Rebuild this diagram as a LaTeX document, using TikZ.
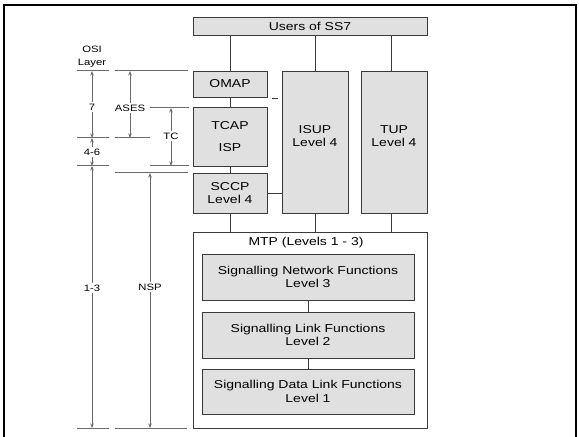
\documentclass[tikz,border=0pt]{standalone}
\usepackage{fontspec}
\setmainfont{Liberation Sans}[FakeStretch=1.22]
\usetikzlibrary{arrows.meta}
\definecolor{boxfill}{HTML}{E0E0E0}
\definecolor{boxline}{HTML}{3A3A3A}
\definecolor{dimline}{HTML}{6A6A6A}
\begin{document}
\begin{tikzpicture}[x=1bp,y=-1bp,
  box/.style={draw=boxline, fill=boxfill, line width=0.9bp, inner sep=0pt, align=center,
    font=\fontsize{11.5}{13.5}\selectfont},
  plain/.style={draw=none, fill=none, inner sep=0pt, align=center, font=\fontsize{11.5}{13.5}\selectfont},
  conn/.style={draw=boxline, line width=0.9bp},
  lab/.style={inner sep=2pt, align=center, font=\fontsize{9.3}{12.5}\selectfont},
  tick/.style={draw=dimline, line width=1bp},
  dim/.style={draw=dimline, line width=1bp, -{Stealth[length=4.5bp,width=3.5bp]}},
]
\useasboundingbox (0,0) rectangle (579,437);
% frame
\draw[line width=2.6bp, miter limit=10] (4,437) -- (4,5) -- (576,5) -- (576,437);

% boxes
\node[box, minimum width=234bp, minimum height=18bp] (users) at (310,26) {Users of SS7};
\node[box, minimum width=74bp, minimum height=26bp] (omap) at (230,84) {OMAP};
\node[box, minimum width=74bp, minimum height=59bp, font=\fontsize{11.5}{22}\selectfont] (tcap) at (230,136.5) {TCAP\\ISP};
\node[box, minimum width=74bp, minimum height=40bp] (sccp) at (230,193) {SCCP\\Level 4};
\node[box, minimum width=66bp, minimum height=142bp] (isup) at (315,142) {};
\node[plain] (isupt) at (315,136) {ISUP\\Level 4};
\node[box, minimum width=66bp, minimum height=142bp] (tup) at (394,142) {};
\node[plain] (tupt) at (394,136) {TUP\\Level 4};
\node[box, fill=white, minimum width=234bp, minimum height=196bp] (mtp) at (310,330) {};
\node[plain] (mtpt) at (306,243) {MTP (Levels 1 - 3)};
\node[box, minimum width=212bp, minimum height=46bp] (snf) at (308,277) {Signalling Network Functions\\Level 3};
\node[box, minimum width=212bp, minimum height=46bp] (slf) at (308,335) {Signalling Link Functions\\Level 2};
\node[box, minimum width=212bp, minimum height=45bp] (sdlf) at (308,391.5) {Signalling Data Link Functions\\Level 1};

% connectors
\draw[conn] (users.south -| omap) -- (omap.north);
\draw[conn] (omap) -- (tcap);
\draw[conn] (tcap) -- (sccp);
\draw[conn] (sccp.south) -- (sccp.south |- mtp.north);
\draw[conn] (users.south -| isup) -- (isup.north);
\draw[conn] (isup.south) -- (isup.south |- mtp.north);
\draw[conn] (users.south -| 391,0) -- (tup.north -| 391,0);
\draw[conn] (tup.south -| 391,0) -- (mtp.north -| 391,0);
\draw[conn] (sccp.east) -- (sccp.east -| isup.west);
\draw[conn] (snf) -- (slf);
\draw[conn] (slf) -- (sdlf);
\coordinate (dashA) at (272,98);
\coordinate (dashB) at (278,98);
\draw[conn] (dashA) -- (dashB);

% tick lines
\draw[tick] (77,71) -- (109,71);
\draw[tick] (77,138) -- (109,138);
\draw[tick] (77,166) -- (109,166);
\draw[tick] (77,428) -- (109,428);
\draw[tick] (115,71) -- (188,71);
\draw[tick] (115,138) -- (150,138);
\draw[tick] (150,108) -- (189,108);
\draw[tick] (150,166) -- (189,166);
\draw[tick] (115,173) -- (188,173);
\draw[tick] (115,428) -- (187,428);

% labels
\node[lab, inner sep=0pt, font=\fontsize{9.3}{13}\selectfont] (osi) at (92,56.5) {OSI\\Layer};
\node[lab] (l7) at (92,107) {7};
\node[lab] (l46) at (92,152) {4-6};
\node[lab] (l13) at (92,288) {1-3};
\node[lab] (lases) at (130,108) {ASES};
\node[lab] (ltc) at (171,136) {TC};
\node[lab] (lnsp) at (150,287) {NSP};

% dimension endpoints
\coordinate (o71) at (92,71);
\coordinate (o138) at (92,138);
\coordinate (o166) at (92,166);
\coordinate (o428) at (92,428);
\coordinate (a71) at (130,71);
\coordinate (a138) at (130,138);
\coordinate (t108) at (171,108);
\coordinate (t166) at (171,166);
\coordinate (n173) at (150,173);
\coordinate (n428) at (150,428);

\draw[dim] (l7.north) -- (o71);
\draw[dim] (l7.south) -- (o138);
\draw[dim] (l46.north) -- (o138);
\draw[dim] (l46.south) -- (o166);
\draw[dim] (l13.north) -- (o166);
\draw[dim] (l13.south) -- (o428);
\draw[dim] (lases.north) -- (a71);
\draw[dim] (lases.south) -- (a138);
\draw[dim] (ltc.north) -- (t108);
\draw[dim] (ltc.south) -- (t166);
\draw[dim] (lnsp.north) -- (n173);
\draw[dim] (lnsp.south) -- (n428);
\end{tikzpicture}
\end{document}
